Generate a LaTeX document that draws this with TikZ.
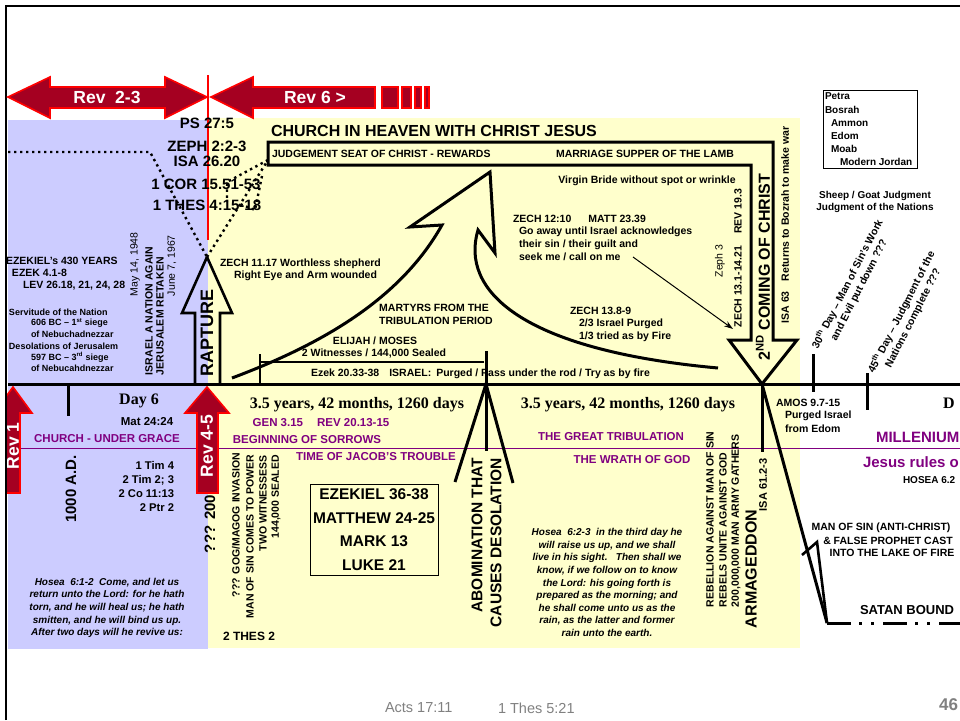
\documentclass[tikz,border=0pt]{standalone}
\usepackage{fontspec}
\setmainfont{Liberation Sans}
\setsansfont{Liberation Sans}
\newfontfamily\serifbf{Liberation Serif}
\usetikzlibrary{arrows.meta}
\definecolor{lav}{HTML}{CCCCFF}
\definecolor{ylw}{HTML}{FFFFCC}
\definecolor{dred}{HTML}{A50021}
\definecolor{pur}{HTML}{800080}
\definecolor{ftgray}{HTML}{808080}
\newcommand\fsz[2]{\fontsize{#1}{#2}\selectfont}
\tikzset{
  every node/.style={inner sep=0pt, outer sep=0pt},
  lb/.style={font=\bfseries\fsz{10.5}{12.8}},
  sm/.style={font=\bfseries\fsz{9}{11}},
  rg/.style={font=\fsz{10.5}{12}},
  pl/.style={font=\bfseries\fsz{11.5}{13}, text=pur},
  wt/.style={font=\bfseries\fsz{17.5}{18}, text=white},
  big/.style={font=\bfseries\fsz{15}{17}},
  ser/.style={font=\serifbf\bfseries\fsz{16}{18}},
  hos/.style={font=\bfseries\itshape\fsz{10}{12.7}, align=center},
  thk/.style={line width=3pt},
  redarrow/.style={fill=dred, draw=red, line width=1.6pt, line join=miter},
  dots/.style={line width=2.4pt, dash pattern=on 2.4pt off 3.6pt},
  foot/.style={font=\fsz{14.5}{16}, text=ftgray}
}
\begin{document}
\begin{tikzpicture}[x=1pt,y=-1pt]
\useasboundingbox (0,0) rectangle (960,720);
% backgrounds
\fill[lav] (8,120) rectangle (208,649);
\fill[ylw] (208,118) rectangle (800,648);
% frame
\draw[line width=1.3pt] (6,720) -- (6,6) -- (960,6);
% red vertical line
\draw[red, line width=2pt] (208,75) -- (208,240);
% top red arrows
\draw[redarrow] (8,97) -- (50,77) -- (50,87) -- (165,87) -- (165,77) -- (207,97) -- (165,118) -- (165,108) -- (50,108) -- (50,118) -- cycle;
\draw[redarrow] (211,97) -- (253,77) -- (253,87) -- (375,87) -- (375,108) -- (253,108) -- (253,118) -- cycle;
\draw[redarrow] (382,87) rectangle (398,108);
\draw[redarrow] (402,87) rectangle (411,108);
\draw[redarrow] (415,87) rectangle (421,108);
\draw[redarrow] (425,87) rectangle (429,108);
\node[wt] (t23) at (107,97) {Rev\ \ 2-3};
\node[wt] (t6) at (315,97) {Rev 6 >};
% coordinates
\coordinate (rtip) at (207,257);
\coordinate (jcorner) at (268,160);
\coordinate (dstart) at (8,152);
\coordinate (dbend) at (150,152);
% dotted lines
\draw[dots] (dstart) -- (dbend) -- (rtip);
\draw[dots] (rtip) -- (jcorner);
\draw[dots] (jcorner) -- (227,182) -- (227,202);
\draw[dots] (262,176) -- (255,210) -- (240,204);
% scriptures near red line
\node[big] (ps) at (207,123) {PS 27:5};
\node[big] (zeph) at (207,146) {ZEPH 2:2-3};
\node[big] (isa) at (207,161) {ISA 26.20};
\node[big] (cor) at (206,184) {1 COR 15.51-53};
\node[big] (thes) at (207,205) {1 THES 4:15-18};
% heaven box / 2nd coming arrow
\draw[thk, line join=miter] (268,142) -- (773,142) -- (773,340) -- (797,340) -- (762,384) -- (729,340) -- (751,340) -- (751,165) -- (268,165) -- cycle;
\node[font=\bfseries\fsz{16}{18}, anchor=west] (church) at (271,131) {CHURCH IN HEAVEN WITH CHRIST JESUS};
\node[lb, anchor=west] (jsc) at (272,154) {JUDGEMENT SEAT OF CHRIST - REWARDS};
\node[lb, anchor=west] (msl) at (556,154) {MARRIAGE SUPPER OF THE LAMB};
\node[lb] (vb) at (647,181) {Virgin Bride without spot or wrinkle};
\node[font=\bfseries\fsz{16}{16}, rotate=90] (second) at (763,267) {2\textsuperscript{ND} COMING OF CHRIST};
\node[lb, rotate=90] (zech13) at (738,258) {ZECH 13.1-14.21\hspace{12pt}REV 19.3};
\node[rg, rotate=90] (zeph3) at (720,261) {Zeph 3};
\node[lb, rotate=90] (isa63) at (785,225) {ISA 63\hspace{10pt}Returns to Bozrah to make war};
% rapture arrow
\draw[line width=2.6pt, line join=miter] (rtip) -- (232,313) -- (220,313) -- (220,384) (195,384) -- (195,313) -- (182,313) -- (rtip);
\node[font=\bfseries\fsz{18}{18}, rotate=90] (rapt) at (207,333) {RAPTURE};
% swoosh arrow
\draw[thk, line join=miter] (232,378) .. controls (320,345) and (400,300) .. (442,225) -- (410,227) -- (490,172) -- (495,253) -- (478,230) .. controls (460,290) and (520,350) .. (718,368);
% texts upper area
\node[lb, anchor=west] (z12) at (513,219) {ZECH 12:10\hspace{17pt}MATT 23.39};
\node[lb, anchor=west] (goaway) at (519,232) {Go away until Israel acknowledges};
\node[lb, anchor=west] (theirsin) at (519,245) {their sin / their guilt and};
\node[lb, anchor=west] (seek) at (519,257) {seek me / call on me};
\coordinate (ar1) at (633,257);
\coordinate (ar2) at (733,329);
\draw[line width=1pt, -{Stealth[length=9pt,width=6pt]}] (ar1) -- (ar2);
\node[lb, anchor=west] (z138) at (570,311) {ZECH 13.8-9};
\node[lb, anchor=west] (z138b) at (579,324) {2/3 Israel Purged};
\node[lb, anchor=west] (z138c) at (579,337) {1/3 tried as by Fire};
\node[lb, anchor=west] (z1117) at (220,264) {ZECH 11.17 Worthless shepherd};
\node[lb, anchor=west] (z1117b) at (234,276) {Right Eye and Arm wounded};
\node[lb] (mart1) at (434,308) {MARTYRS FROM THE};
\node[lb] (mart2) at (436,321) {TRIBULATION PERIOD};
\node[lb] (elij) at (375,341) {ELIJAH / MOSES};
\node[lb] (wit) at (374,354) {2 Witnesses / 144,000 Sealed};
\node[lb, anchor=west] (ezek20) at (311,374) {Ezek 20.33-38\hspace{10pt}ISRAEL:\hspace{5pt}Purged / Pass under the rod / Try as by fire};
% bracket
\coordinate (bl1) at (260,354);
\coordinate (bl2) at (260,384);
\coordinate (bh1) at (260,362);
\coordinate (bh2) at (484,362);
\draw[line width=1.6pt] (bl1) -- (bl2);
\draw[line width=1.6pt] (bh1) -- (bh2);
% petra box
\node[draw, line width=0.8pt, minimum width=94pt, minimum height=78pt, anchor=north west] (petrabox) at (823,90) {};
\node[font=\bfseries\fsz{10}{11}, anchor=west] (petra) at (825,96) {Petra};
\node[font=\bfseries\fsz{10}{11}, anchor=west] (bosrah) at (825,110) {Bosrah};
\node[font=\bfseries\fsz{10}{11}, anchor=west] (ammon) at (831,123) {Ammon};
\node[font=\bfseries\fsz{10}{11}, anchor=west] (edom) at (831,136) {Edom};
\node[font=\bfseries\fsz{10}{11}, anchor=west] (moab) at (831,149) {Moab};
\node[font=\bfseries\fsz{10}{11}, anchor=west] (jordan) at (840,162) {Modern Jordan};
\node[font=\bfseries\fsz{10}{12.5}, align=center] (sheep) at (875,202) {Sheep / Goat Judgment\\Judgment of the Nations};
\node[lb, rotate=63, align=center] (d30) at (853,287) {30\textsuperscript{th} Day -- Man of Sin's Work\\and Evil put down ???};
\node[lb, rotate=63, align=center] (d45) at (907,315) {45\textsuperscript{th} Day -- Judgment of the\\Nations complete ???};
% left texts
\node[lb, anchor=west] (ez430) at (6,261) {EZEKIEL's 430 YEARS};
\node[lb, anchor=west] (ez41) at (12,273) {EZEK 4.1-8};
\node[lb, anchor=west] (lev) at (23,286) {LEV 26.18, 21, 24, 28};
\node[sm, anchor=west] (serv) at (9,312) {Servitude of the Nation};
\node[sm, anchor=west] (s606) at (31,323) {606 BC -- 1\textsuperscript{st} siege};
\node[sm, anchor=west] (neb1) at (31,334) {of Nebuchadnezzar};
\node[sm, anchor=west] (desol) at (9,346) {Desolations of Jerusalem};
\node[sm, anchor=west] (s597) at (31,357) {597 BC -- 3\textsuperscript{rd} siege};
\node[sm, anchor=west] (neb2) at (31,368) {of Nebucahdnezzar};
\node[lb, rotate=90, anchor=west] (isr) at (149,375) {ISRAEL A NATION AGAIN};
\node[lb, rotate=90, anchor=west] (jer) at (160,375) {JERUSALEM RETAKEN};
\node[rg, rotate=90, anchor=west] (may) at (135,296) {May 14, 1948};
\node[rg, rotate=90, anchor=west] (june) at (172,296) {June 7, 1967};
% timeline
\draw[thk] (8,384) -- (960,384);
\draw[thk] (68,384) -- (68,416);
\draw[thk] (813,354) -- (813,392);
\draw[thk] (867,373) -- (867,410);
\draw[pur, line width=0.9pt] (8,448) -- (960,448);
% abomination lines
\coordinate (abtop) at (486,351);
\coordinate (abapex) at (486,384);
\coordinate (abbot) at (486,451);
\coordinate (abl) at (455,482);
\coordinate (abr) at (513,483);
\draw[thk] (abtop) -- (abbot);
\draw[thk] (abl) -- (abapex) -- (abr);
% armageddon lines
\coordinate (ctip) at (762,384);
\coordinate (cbot) at (762,452);
\coordinate (sat) at (827,623);
\coordinate (zz1) at (802,555);
\coordinate (zz2) at (817,542);
\coordinate (sright) at (962,623);
\draw[thk] (ctip) -- (cbot);
\draw[thk] (ctip) -- (sat);
\draw[line width=2.6pt] (zz1) -- (zz2) -- (sat);
\draw[thk, dash pattern=on 24pt off 8pt on 3pt off 9pt on 3pt off 9pt] (sat) -- (sright);
% red arrows below
\draw[redarrow] (207,387) -- (229,413) -- (218,413) -- (218,493) -- (197,493) -- (197,413) -- (185,413) -- cycle;
\node[wt, rotate=90] (r45) at (207,446) {Rev 4-5};
\begin{scope}
\clip (7,0) rectangle (960,720);
\draw[redarrow] (13,387) -- (32,413) -- (20,413) -- (20,493) -- (6,493) -- (6,413) -- (-6,413) -- cycle;
\node[wt, rotate=90] (r1) at (13,446) {Rev 1};
\end{scope}
% lower left
\node[ser] (day6) at (139,401) {Day 6};
\node[font=\bfseries\fsz{11.5}{13}] (mat) at (147,422) {Mat 24:24};
\node[pl] (cug) at (107,439) {CHURCH - UNDER GRACE};
\node[big, rotate=90] (ad) at (71,489) {1000 A.D.};
\node[font=\bfseries\fsz{11.2}{13}, anchor=east] (tim1) at (174,465) {1 Tim 4};
\node[font=\bfseries\fsz{11.2}{13}, anchor=east] (tim2) at (174,480) {2 Tim 2; 3};
\node[font=\bfseries\fsz{11.2}{13}, anchor=east] (co) at (174,494) {2 Co 11:13};
\node[font=\bfseries\fsz{11.2}{13}, anchor=east] (ptr) at (174,508) {2 Ptr 2};
\node[hos] (hos1) at (107,608) {Hosea\ \ 6:1-2\ \ Come, and let us\\return unto the Lord: for he hath\\torn, and he will heal us; he hath\\smitten, and he will bind us up.\\After two days will he revive us:};
% lower middle
\node[big, rotate=90] (q200) at (210,524) {??? 200};
\node[lb, rotate=90, anchor=east] (gog) at (236,453) {??? GOG/MAGOG INVASION};
\node[lb, rotate=90, anchor=east] (mos) at (250,455) {MAN OF SIN COMES TO POWER};
\node[lb, rotate=90, anchor=east] (twow) at (263,455) {TWO WITNESSESS};
\node[lb, rotate=90, anchor=east] (sealed) at (276,455) {144,000 SEALED};
\node[font=\bfseries\fsz{12}{13}, anchor=west] (thes2) at (223,636) {2 THES 2};
\node[ser] (yrs1) at (357,405) {3.5 years, 42 months, 1260 days};
\node[ser] (yrs2) at (628,405) {3.5 years, 42 months, 1260 days};
\node[pl] (gen) at (321,423) {GEN 3.15\hspace{14pt}REV 20.13-15};
\node[pl] (bos) at (307,440) {BEGINNING OF SORROWS};
\node[pl] (jacob) at (376,457) {TIME OF JACOB'S TROUBLE};
\node[draw, line width=1pt, minimum width=128pt, minimum height=91pt, align=center, font=\bfseries\fsz{15.5}{23.5}] (ezbox) at (374,529.5) {EZEKIEL 36-38\\MATTHEW 24-25\\MARK 13\\LUKE 21};
\node[font=\bfseries\fsz{15.5}{16}, rotate=90, anchor=east] (abom) at (477,458) {ABOMINATION THAT};
\node[font=\bfseries\fsz{15.5}{16}, rotate=90, anchor=east] (causes) at (496,458) {CAUSES DESOLATION};
\node[pl] (gt) at (611,437) {THE GREAT TRIBULATION};
\node[pl] (wrath) at (632,460) {THE WRATH OF GOD};
\node[hos, font=\bfseries\itshape\fsz{10}{12.6}] (hos2) at (607,582.5) {Hosea\ \ 6:2-3\ \ in the third day he\\will raise us up, and we shall\\live in his sight.\ \ \ Then shall we\\know, if we follow on to know\\the Lord: his going forth is\\prepared as the morning; and\\he shall come unto us as the\\rain, as the latter and former\\rain unto the earth.};
\node[lb, rotate=90, anchor=west] (reb1) at (710,607) {REBELLION AGAINST MAN OF SIN};
\node[lb, rotate=90, anchor=west] (reb2) at (723,607) {REBELS UNITE AGAINST GOD};
\node[lb, rotate=90, anchor=west] (army) at (736,607) {200,000,000 MAN ARMY GATHERS};
\node[font=\bfseries\fsz{16}{16}, rotate=90, anchor=west] (arm) at (751,628) {ARMAGEDDON};
\node[font=\bfseries\fsz{11}{12}, rotate=90] (isa61) at (763,485) {ISA 61.2-3};
% lower right
\node[lb, anchor=west] (amos) at (776,403) {AMOS 9.7-15};
\node[lb, anchor=west] (purg) at (785,416) {Purged Israel};
\node[lb, anchor=west] (fedom) at (785,429) {from Edom};
\node[ser, anchor=west] (dd) at (943,403) {D};
\node[font=\bfseries\fsz{15}{16}, text=pur, anchor=west] (mill) at (876,437) {MILLENIUM};
\node[font=\bfseries\fsz{15}{16}, text=pur, anchor=west] (jesus) at (863,462) {Jesus rules o};
\node[font=\bfseries\fsz{10}{11}, anchor=west] (hos62) at (903,480) {HOSEA 6.2};
\node[lb] (mos1) at (881,528) {MAN OF SIN (ANTI-CHRIST)};
\node[lb] (mos2) at (888,541) {\& FALSE PROPHET CAST};
\node[lb] (mos3) at (892,553) {INTO THE LAKE OF FIRE};
\node[font=\bfseries\fsz{13}{14}, anchor=west] (satan) at (860,610) {SATAN BOUND};
% footer
\node[foot, anchor=west] (acts) at (385,708) {Acts 17:11};
\node[foot, anchor=west] (thes521) at (498,708) {1 Thes 5:21};
\node[font=\bfseries\fsz{17}{18}, text=ftgray, anchor=east] (pg) at (958,705) {46};
\end{tikzpicture}
\end{document}
